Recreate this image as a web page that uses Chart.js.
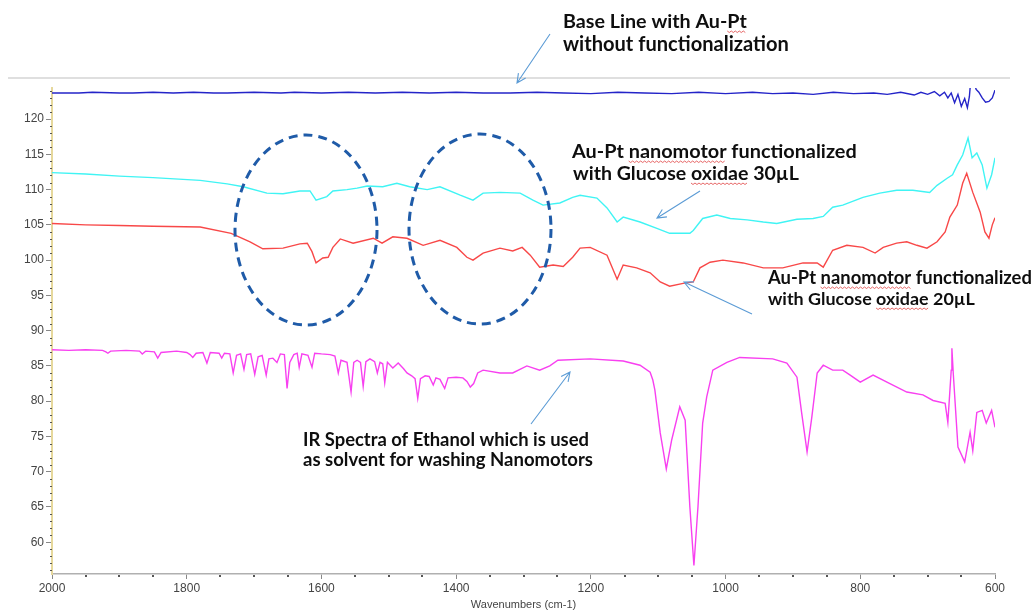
<!DOCTYPE html>
<html>
<head>
<meta charset="utf-8">
<script src="https://cdn.jsdelivr.net/npm/chart.js@4.4.0/dist/chart.umd.min.js"></script>
<style>
html, body { margin: 0; padding: 0; background: #fff; }
</style>
</head>
<body>
<canvas id="chart" width="1034" height="614"></canvas>
<script>
// [wavenumber cm-1, value]
var baseLine = [
  [2000,123.7],[1960,123.7],[1940,123.8],[1900,123.7],[1880,123.7],[1850,123.8],[1820,123.7],[1790,123.8],
  [1760,123.7],[1740,123.7],[1700,123.8],[1660,123.7],[1640,123.8],[1600,123.7],[1560,123.8],[1520,123.7],
  [1480,123.8],[1440,123.7],[1400,123.8],[1360,123.7],[1320,123.7],[1280,123.8],[1240,123.7],[1200,123.6],
  [1160,123.8],[1120,123.7],[1080,123.6],[1040,123.8],[1000,123.6],[960,123.8],[930,123.6],[900,123.7],
  [870,123.5],[840,123.8],[810,123.6],[780,123.7],[760,123.5],[740,123.8],[720,123.4],[710,123.8],
  [700,123.5],[690,123.9],[682,123.3],[675,123.8],[670,123.0],[665,123.7],[660,122.3],[655,123.5],
  [650,121.8],[645,122.9],[641,121.6],[638,123.2],[636,125.5],[632,125.5],[628,124.2],[624,123.8],
  [619,123.0],[614,122.4],[609,122.5],[604,123.0],[600,124.1]
];
var gox30 = [
  [2000,112.4],[1950,112.2],[1900,111.9],[1850,111.7],[1780,111.3],[1740,110.8],[1716,110.4],[1681,109.5],
  [1657,109.4],[1632,109.8],[1617,109.8],[1608,108.5],[1592,109.0],[1583,109.8],[1562,110.0],[1547,110.2],
  [1532,110.5],[1509,110.4],[1488,110.9],[1469,110.4],[1443,110.0],[1424,110.4],[1394,109.2],[1375,108.5],
  [1360,109.5],[1335,109.6],[1305,109.5],[1286,108.5],[1271,107.8],[1246,108.1],[1227,108.9],[1216,109.2],
  [1191,108.8],[1176,107.4],[1161,105.4],[1152,106.1],[1127,105.4],[1102,104.5],[1083,103.8],[1053,103.8],
  [1048,104.2],[1034,105.9],[1013,106.4],[993,105.9],[968,105.7],[944,105.4],[924,105.2],[894,105.8],
  [870,105.9],[855,106.2],[841,107.5],[826,107.8],[796,108.9],[771,109.5],[746,109.9],[722,109.9],
  [697,109.6],[686,110.6],[671,111.6],[663,112.1],[656,113.5],[648,114.9],[640,117.3],[634,114.5],
  [627,115.2],[619,113.5],[612,110.2],[605,112.1],[600,114.5]
];
var gox20 = [
  [2000,105.2],[1950,105.0],[1900,104.9],[1850,104.8],[1780,104.7],[1734,103.8],[1706,102.6],[1687,101.6],
  [1657,101.7],[1632,102.3],[1621,102.4],[1614,101.2],[1608,99.6],[1598,100.3],[1590,100.4],[1583,101.8],
  [1572,103.0],[1553,102.4],[1523,103.1],[1510,102.4],[1494,103.3],[1473,103.1],[1449,102.1],[1424,102.8],
  [1399,101.8],[1384,100.4],[1375,100.0],[1360,101.0],[1335,101.7],[1316,101.3],[1302,101.8],[1290,100.7],
  [1276,99.0],[1256,99.3],[1241,99.1],[1227,100.4],[1216,101.7],[1201,101.8],[1176,100.7],[1161,97.3],
  [1152,99.3],[1132,98.9],[1112,98.2],[1097,96.9],[1083,96.3],[1063,96.7],[1048,96.9],[1038,98.9],
  [1023,99.7],[1004,100.0],[974,99.6],[944,98.9],[915,98.9],[885,99.6],[864,99.6],[855,99.0],
  [841,101.4],[820,102.1],[796,101.8],[778,101.0],[766,101.8],[746,102.4],[731,102.6],[716,102.1],
  [701,101.7],[686,102.6],[674,104.0],[667,106.1],[656,107.8],[648,110.9],[642,112.3],[633,109.6],
  [622,106.8],[615,104.0],[609,103.1],[604,105.0],[600,106.0]
];
var ethanol = [
  [2000,87.3],[1975,87.2],[1950,87.3],[1925,87.2],[1920,87.0],[1917,86.8],[1913,87.1],[1890,87.2],
  [1870,87.1],[1866,86.7],[1861,87.1],[1848,87.0],[1843,86.1],[1838,86.9],[1815,87.1],[1800,86.9],
  [1795,86.6],[1791,86.2],[1786,86.8],[1776,86.9],[1770,85.4],[1765,86.9],[1752,86.8],[1748,86.1],
  [1744,86.8],[1736,86.7],[1731,84.0],[1726,86.5],[1720,86.7],[1715,84.5],[1711,86.6],[1705,86.7],
  [1699,83.8],[1694,86.3],[1688,86.5],[1682,83.7],[1678,86.0],[1672,86.1],[1666,85.5],[1661,86.7],
  [1655,86.6],[1651,81.8],[1647,85.5],[1641,86.6],[1636,86.8],[1633,84.8],[1629,86.7],[1620,86.5],
  [1614,84.8],[1610,86.8],[1600,86.7],[1587,86.6],[1580,86.4],[1575,84.0],[1571,85.8],[1562,85.5],
  [1556,81.3],[1552,85.5],[1547,85.8],[1542,85.5],[1538,82.1],[1534,85.6],[1528,86.0],[1521,85.6],
  [1517,84.0],[1513,85.5],[1509,85.3],[1506,82.6],[1502,85.5],[1494,84.7],[1486,85.4],[1478,84.6],
  [1473,84.0],[1466,83.6],[1461,83.2],[1457,80.4],[1453,83.2],[1446,83.6],[1440,83.5],[1434,82.3],
  [1430,83.3],[1424,83.1],[1417,81.8],[1412,83.3],[1400,83.4],[1390,83.3],[1384,82.8],[1379,82.0],
  [1374,82.5],[1368,84.0],[1360,84.4],[1335,84.0],[1316,84.0],[1295,85.0],[1276,84.4],[1261,85.0],
  [1249,85.8],[1201,86.0],[1152,85.7],[1127,85.1],[1112,84.1],[1108,83.0],[1105,81.6],[1097,75.5],
  [1088,70.4],[1080,74.5],[1068,79.2],[1060,77.3],[1053,65.0],[1047,56.7],[1041,65.0],[1034,76.9],
  [1028,80.6],[1019,84.4],[998,85.5],[979,86.2],[930,86.0],[909,85.4],[894,83.4],[887,78.3],
  [879,72.8],[872,77.7],[864,84.0],[855,85.1],[841,84.4],[826,84.4],[815,83.7],[800,82.7],
  [781,83.7],[756,82.5],[731,81.3],[707,80.9],[692,80.1],[674,79.7],[670,77.0],[665,84.4],
  [664,87.5],[662,84.0],[655,73.5],[645,71.4],[637,75.6],[633,73.0],[627,78.4],[619,78.7],
  [613,76.9],[605,78.7],[600,76.3]
];
var xTickValues = [2000, 1800, 1600, 1400, 1200, 1000, 800, 600];
var yTickValues = [60, 65, 70, 75, 80, 85, 90, 95, 100, 105, 110, 115, 120];

function toXY(arr) {
  return arr.map(function (p) { return { x: p[0], y: p[1] }; });
}

function series(data, color) {
  return {
    data: toXY(data),
    showLine: true,
    borderColor: color,
    borderWidth: 1.4,
    pointRadius: 0,
    tension: 0,
    fill: false
  };
}

var minorTicks = {
  id: "minorTicks",
  afterDraw: function (chart) {
    var ctx = chart.ctx, x = chart.scales.x, y = chart.scales.y;
    ctx.save();
    ctx.fillStyle = "#555";
    for (var v = 56; v <= 124; v++) {
      if (v % 5 === 0) continue;
      ctx.fillRect(x.left - 2, Math.round(y.getPixelForValue(v)), 2, 1);
    }
    for (var w = 650; w < 2000; w += 50) {
      if (w % 200 === 0) continue;
      ctx.fillRect(Math.round(x.getPixelForValue(w)) - 1, y.bottom + 1, 2, 2);
    }
    ctx.restore();
  }
};

function arrow(ctx, x1, y1, x2, y2) {
  var a = Math.atan2(y2 - y1, x2 - x1), h = 10, s = 0.45;
  ctx.beginPath();
  ctx.moveTo(x1, y1);
  ctx.lineTo(x2, y2);
  ctx.moveTo(x2 - h * Math.cos(a - s), y2 - h * Math.sin(a - s));
  ctx.lineTo(x2, y2);
  ctx.lineTo(x2 - h * Math.cos(a + s), y2 - h * Math.sin(a + s));
  ctx.stroke();
}

function squiggle(ctx, x1, x2, y) {
  ctx.save();
  ctx.strokeStyle = "#e04040";
  ctx.lineWidth = 0.8;
  ctx.beginPath();
  ctx.moveTo(x1, y);
  for (var x = x1, k = 0; x <= x2; x += 2, k++) ctx.lineTo(x, y + (k % 2 ? 1.5 : 0));
  ctx.stroke();
  ctx.restore();
}

// text line fitted to the width it takes in the picture, optional spell-check marks
function label(ctx, text, x, y, width, marks) {
  ctx.font = "bold 20px Lato";
  var size = 20 * width / ctx.measureText(text).width;
  ctx.font = "bold " + size.toFixed(2) + "px Lato";
  ctx.fillStyle = "#0e0e0e";
  ctx.textBaseline = "alphabetic";
  ctx.textAlign = "left";
  ctx.fillText(text, x, y);
  (marks || []).forEach(function (word) {
    var i = text.indexOf(word);
    var a = x + ctx.measureText(text.slice(0, i)).width;
    var b = a + ctx.measureText(word).width;
    squiggle(ctx, a, b, y + 3);
  });
}

var notes = {
  id: "notes",
  afterDraw: function (chart) {
    var ctx = chart.ctx;
    ctx.save();
    // edge of the pasted screenshot
    ctx.strokeStyle = "#d4d4d4";
    ctx.lineWidth = 1.5;
    ctx.beginPath();
    ctx.moveTo(8, 78);
    ctx.lineTo(1010, 78);
    ctx.stroke();

    ctx.strokeStyle = "#1f5ba8";
    ctx.lineWidth = 3;
    ctx.setLineDash([9, 6]);
    ctx.beginPath();
    ctx.ellipse(306, 230, 71, 95, 0, 0, Math.PI * 2);
    ctx.stroke();
    ctx.beginPath();
    ctx.ellipse(480, 229, 71, 95, 0, 0, Math.PI * 2);
    ctx.stroke();
    ctx.setLineDash([]);

    ctx.strokeStyle = "#5b9bd5";
    ctx.lineWidth = 1.1;
    arrow(ctx, 550, 34, 517, 83);
    arrow(ctx, 700, 191, 657, 218);
    arrow(ctx, 752, 314, 684, 282);
    arrow(ctx, 531, 424, 570, 372);

    label(ctx, "Base Line with Au-Pt", 563, 28, 184, ["Pt"]);
    label(ctx, "without functionalization", 563, 51, 226);
    label(ctx, "Au-Pt nanomotor functionalized", 572, 158, 285, ["nanomotor"]);
    label(ctx, "with Glucose oxidae 30\u00b5L", 573, 180, 226, ["oxidae"]);
    label(ctx, "Au-Pt nanomotor functionalized", 768, 284, 264, ["nanomotor"]);
    label(ctx, "with Glucose oxidae 20\u00b5L", 768, 305, 207, ["oxidae"]);
    label(ctx, "IR Spectra of Ethanol which is used", 303, 446, 286);
    label(ctx, "as solvent for washing Nanomotors", 303, 466, 290);
    ctx.restore();
  }
};

Chart.defaults.font.family = "'Liberation Sans', Arial, sans-serif";

new Chart(document.getElementById("chart"), {
  type: "scatter",
  data: {
    datasets: [
      series(baseLine, "#2424c8"),
      series(gox30, "#40f4f4"),
      series(gox20, "#f84848"),
      series(ethanol, "#f840f0")
    ]
  },
  options: {
    responsive: false,
    animation: false,
    layout: { padding: { top: 88, right: 39, left: 0, bottom: 0 } },
    plugins: { legend: { display: false }, tooltip: { enabled: false } },
    scales: {
      x: {
        type: "linear",
        reverse: true,
        min: 600,
        max: 2000,
        afterBuildTicks: function (s) { s.ticks = xTickValues.map(function (v) { return { value: v }; }); },
        afterFit: function (s) { s.height = 40; },
        ticks: { color: "#444", font: { size: 12 }, padding: 2, maxRotation: 0, autoSkip: false,
                 callback: function (v) { return String(v); } },
        grid: { drawOnChartArea: false, tickLength: 5, color: "#888" },
        border: { color: "#b0b0b0", width: 1.5 },
        title: { display: true, text: "Wavenumbers (cm-1)", color: "#444", font: { size: 11 }, padding: { top: 0, bottom: 2 } }
      },
      y: {
        min: 55.5,
        max: 124.4,
        afterBuildTicks: function (s) { s.ticks = yTickValues.map(function (v) { return { value: v }; }); },
        afterFit: function (s) { s.width = 52; },
        ticks: { color: "#444", font: { size: 12 }, padding: 2, callback: function (v) { return String(v); } },
        grid: { drawOnChartArea: false, tickLength: 6, color: "#888" },
        border: { color: "#e6d89c", width: 2 }
      }
    }
  },
  plugins: [minorTicks, notes]
});
</script>
</body>
</html>
